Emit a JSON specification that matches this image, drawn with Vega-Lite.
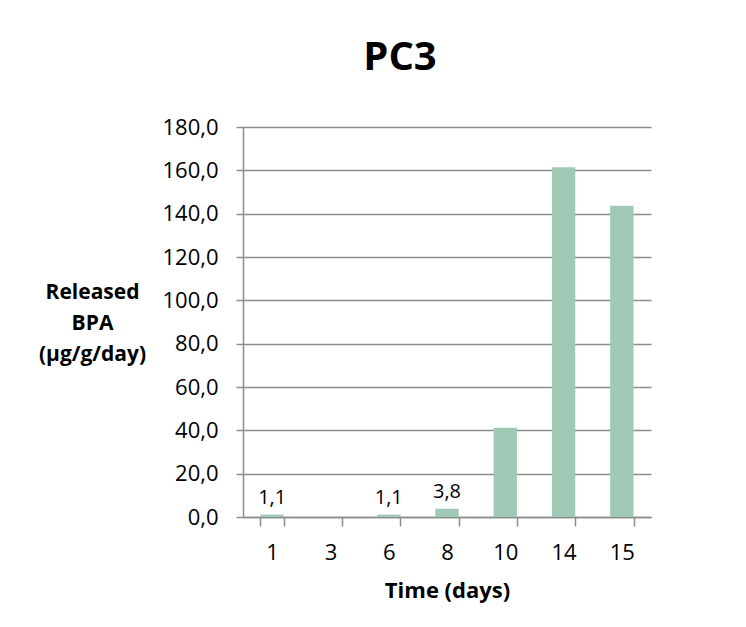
{
  "$schema": "https://vega.github.io/schema/vega-lite/v6.json",
  "width": 408,
  "height": 390,
  "autosize": {"type": "none"},
  "padding": {"left": 243, "top": 127, "right": 95, "bottom": 110},
  "background": "white",
  "title": {
    "text": "PC3",
    "font": "Open Sans",
    "fontSize": 40,
    "fontWeight": "bold",
    "color": "black",
    "anchor": "middle",
    "dx": -47,
    "offset": 38
  },
  "config": {
    "locale": {"number": {"decimal": ",", "thousands": ".", "grouping": [3], "currency": ["", "€"]}},
    "view": {"stroke": null},
    "font": "Open Sans"
  },
  "data": {
    "values": [
      {"day": "1", "value": 1.1},
      {"day": "3", "value": 0},
      {"day": "6", "value": 1.1},
      {"day": "8", "value": 3.8},
      {"day": "10", "value": 41.2},
      {"day": "14", "value": 161.4},
      {"day": "15", "value": 143.7}
    ]
  },
  "layer": [
    {
      "mark": {"type": "bar", "color": "#9fc9b5"},
      "encoding": {
        "x": {
          "field": "day",
          "type": "ordinal",
          "sort": null,
          "scale": {"paddingInner": 0.6, "paddingOuter": 0.3},
          "axis": {
            "title": "Time (days)",
            "titleFont": "Open Sans",
            "titleFontSize": 22,
            "titleFontWeight": "bold",
            "titleColor": "black",
            "titleBaseline": "alphabetic",
            "titleY": 80,
            "labelAngle": 0,
            "labelFont": "Open Sans",
            "labelFontSize": 22,
            "labelColor": "black",
            "labelPadding": 16,
            "tickSize": 9,
            "tickBand": "extent",
            "tickColor": "#8c8c8c",
            "tickWidth": 1.5,
            "domainColor": "#8c8c8c",
            "domainWidth": 1.5,
            "grid": false
          }
        },
        "y": {
          "field": "value",
          "type": "quantitative",
          "scale": {"domain": [0, 180], "nice": false},
          "axis": {
            "values": [0, 20, 40, 60, 80, 100, 120, 140, 160, 180],
            "format": ".1f",
            "title": ["Released", "BPA", "(µg/g/day)"],
            "titleAngle": 0,
            "titleAlign": "center",
            "titleBaseline": "middle",
            "titleX": -151,
            "titleY": 165,
            "titleFont": "Open Sans",
            "titleFontSize": 21,
            "titleFontWeight": "bold",
            "titleColor": "black",
            "titleLineHeight": 31,
            "labelFont": "Open Sans",
            "labelFontSize": 22,
            "labelColor": "black",
            "labelPadding": 18,
            "tickSize": 7,
            "tickColor": "#8c8c8c",
            "tickWidth": 1.5,
            "domainColor": "#8c8c8c",
            "domainWidth": 1.5,
            "grid": true,
            "gridColor": "#8c8c8c",
            "gridWidth": 1.5
          }
        }
      }
    },
    {
      "transform": [{"filter": "datum.value > 0 && datum.value < 10"}],
      "mark": {"type": "text", "dy": -17, "font": "Open Sans", "fontSize": 20, "color": "black"},
      "encoding": {
        "x": {"field": "day", "type": "ordinal", "sort": null},
        "y": {"field": "value", "type": "quantitative"},
        "text": {"field": "value", "type": "quantitative", "format": ".1f"}
      }
    }
  ]
}
